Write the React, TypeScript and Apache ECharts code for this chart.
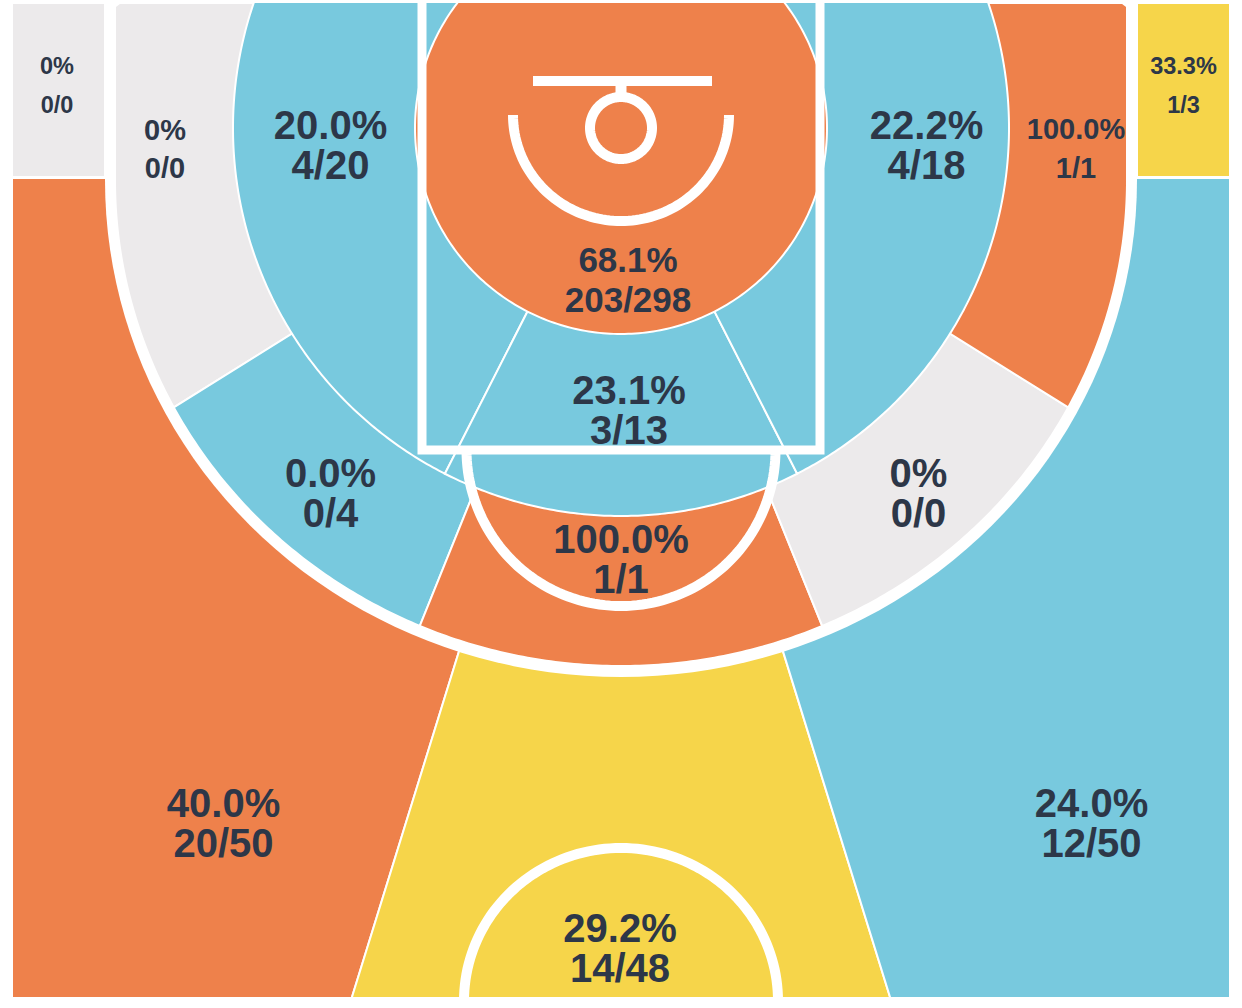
import React, { useEffect, useRef } from "react";
import * as echarts from "echarts";

// ---------------- data ----------------
const zoneNames = [
  "Left Corner 3", "Right Corner 3", "Left Wing 3", "Top of Key 3", "Right Wing 3",
  "Left Baseline Mid-Range", "Left Wing Mid-Range", "Top Mid-Range", "Right Wing Mid-Range", "Right Baseline Mid-Range",
  "Left Short Range", "Center Short Range", "Right Short Range", "Restricted Area",
];
const made = [0, 1, 20, 14, 12, 0, 0, 1, 0, 1, 4, 3, 4, 203];
const attempts = [0, 3, 50, 48, 50, 0, 4, 1, 0, 1, 20, 13, 18, 298];
const tier = ["none", "avg", "hot", "avg", "cold", "none", "cold", "hot", "none", "hot", "cold", "cold", "cold", "hot"];

// ---------------- styles ----------------
const TIER_COLOR: Record<string, string> = {
  hot: "#EE814B",
  avg: "#F6D54A",
  cold: "#78C9DE",
  none: "#ECEAEB",
};
const TEXT_COLOR = "#2D3748";
const LINE = "#FFFFFF";
const FONT = '"Liberation Sans", Arial, Helvetica, sans-serif';

// ---------------- court geometry (court units) ----------------
const COURT = { left: 12, right: 1230, top: 3, bottom: 998 };
const HOOP = [621, 128];
const CORNER_Y = 177.5;
const THREE_SPLIT = 17.2; // degrees from straight down
const ARC_IN = { left: 115, right: 1127, cx: 621, cy: 180, a: 506, b: 486 };
const ARC_OUT = { left: 105, right: 1137, cx: 621, cy: 180, a: 516, b: 497 };
const MID_R = 388;
const RA_R = 206;
const MID_SPLITS = [-180, -58, -22, 22, 58, 180];
const SHORT_SPLITS = [-180, -27, 27, 180];

// label layout per zone: centre, font size, line gap
const LABEL_LAYOUT = [
  { x: 57, y: 85.5, size: 23.5, gap: 39 },
  { x: 1183.5, y: 85.5, size: 23.5, gap: 39 },
  { x: 223.5, y: 823, size: 40, gap: 40 },
  { x: 620, y: 948, size: 40, gap: 40 },
  { x: 1091.5, y: 823, size: 40, gap: 40 },
  { x: 165, y: 149, size: 29, gap: 38.5 },
  { x: 330.5, y: 493, size: 40, gap: 40 },
  { x: 621, y: 559, size: 40, gap: 40 },
  { x: 918.5, y: 493, size: 40, gap: 40 },
  { x: 1076, y: 148.5, size: 29, gap: 38.5 },
  { x: 330.5, y: 145, size: 40, gap: 40 },
  { x: 629, y: 410, size: 40, gap: 40 },
  { x: 926.5, y: 145, size: 40, gap: 40 },
  { x: 628, y: 279.5, size: 35, gap: 40 },
];

const D2R = Math.PI / 180;

function rayX(phi: number, y: number) {
  return HOOP[0] + Math.tan(phi * D2R) * (y - HOOP[1]);
}

function rayExit(phi: number): number[] {
  const dx = Math.sin(phi * D2R);
  const dy = Math.cos(phi * D2R);
  const hx = HOOP[0], hy = HOOP[1];
  let t = Infinity;
  if (dx < -1e-9) t = Math.min(t, (ARC_IN.left - hx) / dx);
  if (dx > 1e-9) t = Math.min(t, (ARC_IN.right - hx) / dx);
  if (dy < -1e-9) t = Math.min(t, (COURT.top - hy) / dy);
  if (dy > 1e-9) t = Math.min(t, (ARC_IN.cy - hy) / dy);
  if (dy > 1e-9) {
    const px = (hx - ARC_IN.cx) / ARC_IN.a, py = (hy - ARC_IN.cy) / ARC_IN.b;
    const ux = dx / ARC_IN.a, uy = dy / ARC_IN.b;
    const A = ux * ux + uy * uy, B = 2 * (px * ux + py * uy), C = px * px + py * py - 1;
    const te = (-B + Math.sqrt(B * B - 4 * A * C)) / (2 * A);
    t = Math.max(t, te);
  }
  return [hx + t * dx, hy + t * dy];
}

function sample(a: number, b: number, step: number) {
  const n = Math.max(2, Math.ceil(Math.abs(b - a) / step));
  const out: number[] = [];
  for (let k = 0; k <= n; k++) out.push(a + ((b - a) * k) / n);
  return out;
}

function circlePt(r: number, phi: number) {
  const x = HOOP[0] + r * Math.sin(phi * D2R);
  const y = HOOP[1] + r * Math.cos(phi * D2R);
  return [x, Math.max(y, COURT.top - 2)];
}

function ellPts(cx: number, cy: number, rx: number, ry: number, t1: number, t2: number) {
  return sample(t1, t2, 2).map((t) => [cx + rx * Math.cos(t * D2R), cy + ry * Math.sin(t * D2R)]);
}

function zoneOutline(i: number): number[][] {
  const s = THREE_SPLIT;
  const yw = CORNER_Y + 0.5;
  const B = COURT.bottom;
  switch (i) {
    case 0:
      return [[COURT.left, COURT.top], [ARC_OUT.left, COURT.top], [ARC_OUT.left, CORNER_Y - 0.5], [COURT.left, CORNER_Y - 0.5]];
    case 1:
      return [[ARC_OUT.right, COURT.top], [COURT.right, COURT.top], [COURT.right, CORNER_Y - 0.5], [ARC_OUT.right, CORNER_Y - 0.5]];
    case 2:
      return [[COURT.left, yw], [rayX(-s, yw), yw], [rayX(-s, B), B], [COURT.left, B]];
    case 3:
      return [[rayX(-s, yw), yw], [rayX(s, yw), yw], [rayX(s, B), B], [rayX(-s, B), B]];
    case 4:
      return [[rayX(s, yw), yw], [COURT.right, yw], [COURT.right, B], [rayX(s, B), B]];
    default:
      break;
  }
  if (i >= 5 && i <= 9) {
    const k = i - 5;
    const pts = sample(MID_SPLITS[k], MID_SPLITS[k + 1], 0.5).map(rayExit);
    return [HOOP, ...pts];
  }
  if (i >= 10 && i <= 12) {
    const k = i - 10;
    const pts = sample(SHORT_SPLITS[k], SHORT_SPLITS[k + 1], 0.5).map((p) => circlePt(MID_R, p));
    return [HOOP, ...pts];
  }
  return sample(0, 360, 1).map((p) => circlePt(RA_R, p));
}

function threeBand(): number[][] {
  return [
    [ARC_OUT.left, COURT.top - 5],
    [ARC_OUT.left, ARC_OUT.cy],
    ...ellPts(ARC_OUT.cx, ARC_OUT.cy, ARC_OUT.a, ARC_OUT.b, 180, 0),
    [ARC_OUT.right, ARC_OUT.cy],
    [ARC_OUT.right, COURT.top - 5],
  ];
}

const COURT_LINES = [
  { pts: [[422, -10], [422, 450], [820, 450], [820, -10]], w: 9 },
  { pts: ellPts(621, 450, 154.5, 156, 0, 180), w: 10 },
  { pts: ellPts(621, 1001, 157, 153, 180, 360), w: 10 },
  { pts: ellPts(621, 115, 108, 106, 0, 180), w: 10 },
  { pts: ellPts(621, 128, 31, 31, 0, 360), w: 10 },
  { pts: [[621, 84], [621, 99]], w: 11 },
  { pts: [[533, 81], [712, 81]], w: 10 },
];

function pctText(m: number, a: number) {
  return a === 0 ? "0%" : ((m / a) * 100).toFixed(1) + "%";
}

const toPx = (api: any, pts: number[][]) => pts.map((p) => api.coord(p));

function zoneSeries(ids: number[], z: number) {
  return {
    type: "custom",
    coordinateSystem: "cartesian2d",
    clip: true,
    silent: true,
    z,
    data: ids.map((i) => ({ name: zoneNames[i], value: [i] })),
    renderItem: (_params: any, api: any) => {
      const i = api.value(0);
      return {
        type: "polygon",
        shape: { points: toPx(api, zoneOutline(i)) },
        style: { fill: TIER_COLOR[tier[i]], stroke: LINE, lineWidth: 2 },
      };
    },
  };
}

export default function App() {
  const ref = useRef<HTMLDivElement>(null);

  useEffect(() => {
    if (!ref.current) return;
    const chart = echarts.init(ref.current, undefined, { renderer: "svg" });
    const allIds = zoneNames.map((_, i) => i);
    const option: any = {
      animation: false,
      backgroundColor: "#FFFFFF",
      grid: { left: 12, right: 12, top: 3, bottom: 10 },
      xAxis: { type: "value", min: COURT.left, max: COURT.right, show: false },
      yAxis: { type: "value", min: COURT.top, max: COURT.bottom, inverse: true, show: false },
      series: [
        zoneSeries([0, 1, 2, 3, 4], 1),
        {
          type: "custom",
          coordinateSystem: "cartesian2d",
          clip: true,
          silent: true,
          z: 2,
          data: [[0]],
          renderItem: (_p: any, api: any) => ({
            type: "polygon",
            shape: { points: toPx(api, threeBand()) },
            style: { fill: LINE, stroke: "none" },
          }),
        },
        zoneSeries([5, 6, 7, 8, 9], 3),
        zoneSeries([10, 11, 12], 4),
        zoneSeries([13], 5),
        {
          type: "custom",
          coordinateSystem: "cartesian2d",
          clip: true,
          silent: true,
          z: 6,
          data: [[0]],
          renderItem: (_p: any, api: any) => ({
            type: "group",
            children: COURT_LINES.map((l) => ({
              type: "polyline",
              shape: { points: toPx(api, l.pts) },
              style: { fill: "none", stroke: LINE, lineWidth: l.w, lineCap: "butt", lineJoin: "miter" },
            })),
          }),
        },
        {
          type: "custom",
          coordinateSystem: "cartesian2d",
          clip: false,
          silent: true,
          z: 7,
          data: allIds.map((i) => ({ name: zoneNames[i], value: [i] })),
          renderItem: (_p: any, api: any) => {
            const i = api.value(0);
            const L = LABEL_LAYOUT[i];
            const p1 = api.coord([L.x, L.y - L.gap / 2]);
            const p2 = api.coord([L.x, L.y + L.gap / 2]);
            const font = `bold ${L.size}px ${FONT}`;
            return {
              type: "group",
              children: [
                {
                  type: "text",
                  x: p1[0],
                  y: p1[1],
                  style: { text: pctText(made[i], attempts[i]), fill: TEXT_COLOR, font, align: "center", verticalAlign: "middle" },
                },
                {
                  type: "text",
                  x: p2[0],
                  y: p2[1],
                  style: { text: `${made[i]}/${attempts[i]}`, fill: TEXT_COLOR, font, align: "center", verticalAlign: "middle" },
                },
              ],
            };
          },
        },
      ],
    };
    chart.setOption(option);
    return () => chart.dispose();
  }, []);

  return (
    <div
      ref={ref}
      style={{ position: "absolute", left: 0, top: 0, width: 1242, height: 1008, background: "#fff" }}
    />
  );
}
